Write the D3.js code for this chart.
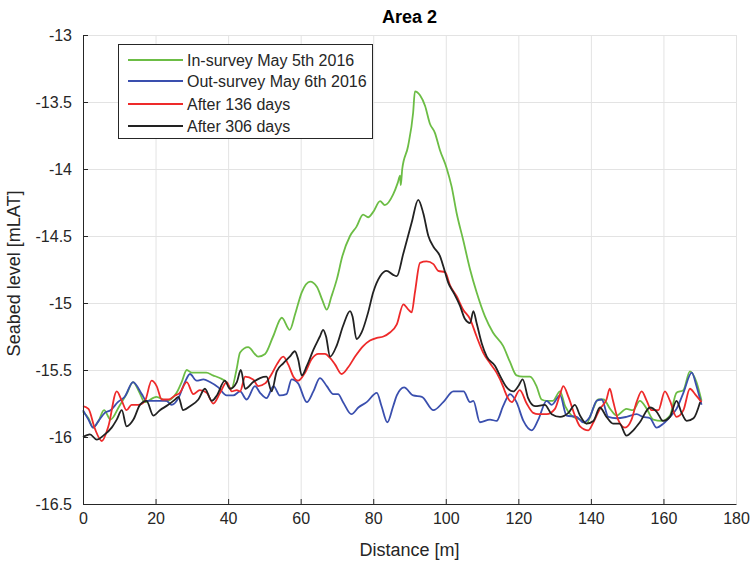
<!DOCTYPE html>
<html>
<head>
<meta charset="utf-8">
<script src="https://cdn.jsdelivr.net/npm/d3@7"></script>
<style>
  body { margin: 0; background: #fff; }
  svg { font-family: "Liberation Sans", Arial, Helvetica, sans-serif; }
</style>
</head>
<body>
<div class="chart-container"></div>
<script>
// data: [distance (m), seabed level (mLAT)]
const inSurvey = [[0,-15.81],[1.5,-15.86],[2.8,-15.93],[4.3,-15.88],[5.8,-15.80],[7.6,-15.87],[10,-15.77],[12,-15.68],[13.8,-15.59],[15.6,-15.67],[17,-15.74],[20.2,-15.70],[23,-15.73],[25.8,-15.67],[27.2,-15.59],[28.6,-15.50],[30,-15.52],[32,-15.52],[34,-15.52],[35.8,-15.54],[37.7,-15.56],[39.5,-15.59],[40.9,-15.64],[42.3,-15.50],[43.3,-15.37],[45.5,-15.33],[48.3,-15.40],[50.2,-15.38],[52.4,-15.25],[54.8,-15.11],[57,-15.20],[58.5,-15.08],[60.3,-14.92],[62.6,-14.84],[64.5,-14.88],[66,-14.98],[67.2,-15.05],[68.5,-14.95],[70,-14.82],[71.5,-14.65],[73.6,-14.50],[75.4,-14.43],[77.2,-14.34],[78.6,-14.36],[80,-14.32],[81.9,-14.24],[83.2,-14.27],[85.5,-14.19],[86.8,-14.10],[87.4,-14.05],[87.6,-14.12],[88,-14.0],[89.6,-13.83],[91,-13.58],[91.5,-13.42],[92.9,-13.45],[94.3,-13.53],[95.6,-13.66],[97,-13.73],[98.4,-13.86],[100.2,-13.99],[101.6,-14.13],[103,-14.33],[104.8,-14.53],[106.7,-14.75],[108.5,-14.92],[110.8,-15.10],[113,-15.22],[115.8,-15.32],[117.7,-15.44],[119.5,-15.54],[121.3,-15.55],[123.2,-15.55],[125,-15.62],[126.4,-15.72],[127.8,-15.73],[129.5,-15.73],[131.5,-15.66],[132.9,-15.77],[134.7,-15.84],[137,-15.87],[138.8,-15.90],[140.6,-15.79],[142,-15.72],[143.5,-15.72],[145.3,-15.79],[147.1,-15.84],[149.8,-15.79],[151.6,-15.80],[153.5,-15.73],[155.4,-15.79],[157.2,-15.87],[159.5,-15.88],[161.8,-15.84],[163.6,-15.67],[165.5,-15.65],[167.3,-15.51],[169.1,-15.59],[170.5,-15.73]];

const outSurvey = [[0,-15.80],[1.5,-15.87],[2.8,-15.93],[4.3,-15.88],[6,-15.82],[7.6,-15.80],[9.6,-15.74],[11.5,-15.70],[13.8,-15.59],[16.2,-15.68],[17.5,-15.73],[20.3,-15.73],[23,-15.73],[24.4,-15.76],[26.3,-15.71],[28.1,-15.59],[29.5,-15.53],[31.3,-15.58],[33.2,-15.57],[35,-15.59],[37.3,-15.63],[39.6,-15.69],[41.4,-15.69],[43.3,-15.66],[45.1,-15.72],[47.4,-15.62],[48.8,-15.67],[50.6,-15.71],[52.5,-15.62],[54.3,-15.69],[56.1,-15.68],[57.5,-15.57],[59.3,-15.60],[61.7,-15.74],[63.5,-15.66],[65.3,-15.56],[67.2,-15.62],[69,-15.68],[70.3,-15.68],[71.7,-15.74],[74,-15.83],[75.9,-15.78],[78.2,-15.74],[81,-15.67],[82.3,-15.77],[83.9,-15.89],[85.5,-15.77],[86.5,-15.69],[88.5,-15.63],[91,-15.69],[93.4,-15.70],[96.6,-15.80],[99.3,-15.74],[102.1,-15.66],[104.9,-15.66],[106.7,-15.74],[107.6,-15.73],[109.4,-15.89],[112.2,-15.87],[114,-15.88],[115.8,-15.77],[117.7,-15.68],[119.5,-15.74],[121.4,-15.88],[123.7,-15.95],[125.5,-15.87],[127.8,-15.73],[129.2,-15.76],[131.5,-15.69],[133.3,-15.84],[136.1,-15.85],[137.9,-15.89],[139.7,-15.85],[141.6,-15.73],[143,-15.72],[144.8,-15.85],[147.1,-15.86],[149.8,-15.85],[152.6,-15.83],[154.4,-15.85],[156.3,-15.86],[158.1,-15.93],[160,-15.90],[161.8,-15.85],[163.6,-15.79],[165.5,-15.67],[167.8,-15.52],[169.1,-15.62],[170.5,-15.76]];

const after136 = [[0,-15.77],[1.5,-15.79],[3.3,-15.94],[5.2,-16.03],[7,-15.92],[9.3,-15.66],[10.7,-15.73],[12,-15.80],[13.4,-15.76],[15.2,-15.76],[17.1,-15.73],[18.9,-15.58],[20.3,-15.62],[21.7,-15.72],[23.5,-15.72],[25.4,-15.69],[26.7,-15.67],[28.6,-15.59],[30.4,-15.68],[32.2,-15.65],[34.1,-15.67],[35.9,-15.75],[37.8,-15.67],[39.6,-15.59],[41,-15.66],[42.4,-15.65],[43.3,-15.66],[44.7,-15.55],[46.9,-15.57],[48.3,-15.62],[50.2,-15.60],[52,-15.53],[53.4,-15.46],[55.2,-15.40],[56.6,-15.46],[58,-15.55],[59.3,-15.58],[61.2,-15.52],[63,-15.42],[64.9,-15.38],[66.7,-15.38],[68.1,-15.41],[69.5,-15.46],[71.3,-15.53],[73.1,-15.48],[75,-15.40],[77.3,-15.32],[79.1,-15.28],[81,-15.26],[82.8,-15.25],[84.6,-15.22],[86.5,-15.16],[88.3,-15.01],[89.7,-15.05],[90.6,-15.07],[91.5,-14.92],[92.9,-14.70],[94.7,-14.69],[96.6,-14.71],[97.9,-14.76],[99.8,-14.77],[101.2,-14.87],[103,-14.95],[104.8,-15.05],[106.7,-15.12],[108.5,-15.25],[110.3,-15.37],[112.2,-15.45],[114,-15.52],[115.9,-15.63],[116.3,-15.66],[118.2,-15.74],[120.4,-15.65],[122.3,-15.75],[124.1,-15.82],[125.5,-15.83],[127.8,-15.83],[130.1,-15.79],[131.5,-15.68],[132.4,-15.62],[133.8,-15.70],[135.6,-15.84],[137,-15.92],[139.3,-15.95],[140.7,-15.89],[142.5,-15.79],[144.3,-15.72],[145.2,-15.64],[146.1,-15.73],[147.5,-15.87],[149.4,-15.93],[151.2,-15.87],[152.6,-15.74],[154,-15.66],[155.4,-15.73],[156.7,-15.80],[158.6,-15.80],[160.4,-15.66],[161.8,-15.73],[163.6,-15.85],[165.5,-15.80],[167.3,-15.64],[168.7,-15.68],[170.5,-15.74]];

const after306 = [[0,-16.00],[1.9,-15.98],[3.8,-16.02],[5.6,-15.99],[7.9,-15.93],[9.3,-15.87],[10.7,-15.80],[12,-15.92],[13.9,-15.87],[15.7,-15.76],[17.5,-15.73],[19.4,-15.84],[21.2,-15.80],[23.5,-15.76],[25.4,-15.72],[26.3,-15.70],[27.6,-15.80],[29.5,-15.77],[31.8,-15.72],[33.6,-15.64],[35.5,-15.73],[36.9,-15.69],[39.1,-15.58],[40.5,-15.64],[42.4,-15.59],[43.5,-15.50],[44.7,-15.64],[46.9,-15.59],[48.8,-15.56],[50.6,-15.55],[52,-15.66],[53.4,-15.51],[55.2,-15.45],[57,-15.40],[58.4,-15.36],[59.3,-15.42],[60.3,-15.54],[61.7,-15.47],[63.5,-15.35],[65.3,-15.25],[66.2,-15.20],[67,-15.25],[68.1,-15.40],[69.9,-15.32],[71.7,-15.17],[73.6,-15.06],[74.3,-15.10],[75.4,-15.27],[76.8,-15.22],[78.6,-15.07],[80,-14.92],[81.9,-14.80],[83.7,-14.76],[85.5,-14.79],[86.5,-14.80],[88.3,-14.63],[90.6,-14.40],[92.4,-14.23],[93.8,-14.33],[95.2,-14.50],[96.6,-14.58],[98.4,-14.65],[99.8,-14.77],[100.7,-14.85],[102.1,-14.92],[103.9,-15.02],[105.3,-15.12],[106.7,-15.15],[107.6,-15.06],[108.5,-15.15],[109.9,-15.30],[111.3,-15.40],[113.6,-15.47],[114.9,-15.54],[116.8,-15.63],[118.6,-15.66],[120,-15.62],[121.2,-15.57],[122.7,-15.71],[124.6,-15.77],[127.3,-15.76],[129.2,-15.83],[131.5,-15.85],[133.8,-15.82],[135.6,-15.76],[137,-15.84],[138.8,-15.90],[140.7,-15.88],[142.5,-15.78],[144.3,-15.85],[146.1,-15.90],[147.9,-15.90],[149.8,-15.99],[151.7,-15.95],[153.5,-15.89],[156.3,-15.78],[158.1,-15.81],[159.9,-15.88],[161.8,-15.85],[163.6,-15.73],[165,-15.82],[166.4,-15.88],[168.3,-15.86],[170.1,-15.74]];

const seriesNames = ['In-survey May 5th 2016', 'Out-survey May 6th 2016', 'After 136 days', 'After 306 days'];
const seriesColors = ['#6cbd45', '#3a4fae', '#ee2a2a', '#222222'];
const xTicks = [0, 20, 40, 60, 80, 100, 120, 140, 160, 180];
const yTicks = [-13, -13.5, -14, -14.5, -15, -15.5, -16, -16.5];

const series = [inSurvey, outSurvey, after136, after306].map((values, i) => ({
    name: seriesNames[i],
    color: seriesColors[i],
    values: values
}));

const margin = { top: 35, right: 16, bottom: 59, left: 83 };
const width = 752 - margin.left - margin.right;
const height = 563 - margin.top - margin.bottom;

// scales
const xScale = d3.scaleLinear().domain([0, 180]).range([0, width]);
const yScale = d3.scaleLinear().domain([-16.5, -13]).range([height, 0]);

const lineGen = d3.line()
    .curve(d3.curveMonotoneX)
    .x(d => xScale(d[0]))
    .y(d => yScale(d[1]));

const svg = d3.select('.chart-container')
    .append('svg')
    .attr('width', 752)
    .attr('height', 563)
    .append('g')
    .attr('transform', `translate(${margin.left}, ${margin.top})`);

// grid
const grid = svg.append('g').attr('class', 'grid');
grid.selectAll('.vgrid')
    .data(xTicks.slice(1))
    .enter()
        .append('line')
        .attr('x1', d => xScale(d) + 0.5)
        .attr('x2', d => xScale(d) + 0.5)
        .attr('y1', 0)
        .attr('y2', height)
        .style('stroke', '#e3e3e3');
grid.selectAll('.hgrid')
    .data(yTicks.slice(0, -1))
    .enter()
        .append('line')
        .attr('x1', 0)
        .attr('x2', width)
        .attr('y1', d => yScale(d) + 0.5)
        .attr('y2', d => yScale(d) + 0.5)
        .style('stroke', '#e3e3e3');

// lines
svg.append('g')
    .attr('class', 'line-chart')
    .selectAll('.line-series')
    .data(series)
    .enter()
        .append('path')
        .attr('class', 'line-series')
        .attr('d', d => lineGen(d.values))
        .style('fill', 'none')
        .style('stroke', d => d.color)
        .style('stroke-width', 1.8)
        .style('stroke-linejoin', 'round');

// axes
const xAxis = d3.axisBottom(xScale)
    .tickValues(xTicks)
    .tickSizeInner(-5)
    .tickSizeOuter(0)
    .tickPadding(11);

const xAxisDraw = svg.append('g')
    .attr('class', 'x axis')
    .attr('transform', `translate(0, ${height})`)
    .call(xAxis);

const yAxis = d3.axisLeft(yScale)
    .tickValues(yTicks)
    .tickFormat(d => String(d)) // plain hyphen minus
    .tickSizeInner(-5)
    .tickSizeOuter(0)
    .tickPadding(11);

const yAxisDraw = svg.append('g')
    .attr('class', 'y axis')
    .call(yAxis);

[xAxisDraw, yAxisDraw].forEach(ax => {
    ax.selectAll('path, line').style('stroke', '#262626');
    ax.selectAll('text')
        .style('font-size', '16px')
        .style('fill', '#262626')
        .style('font-family', '"Liberation Sans", Arial, sans-serif');
});
xAxisDraw.selectAll('text').attr('dy', '0.55em');
xAxisDraw.selectAll('.tick').filter(d => d === 180).select('line').remove();

// labels
svg.append('text')
    .attr('x', width / 2)
    .attr('y', -12)
    .attr('text-anchor', 'middle')
    .style('font-weight', 'bold')
    .style('font-size', '18px')
    .style('fill', '#000')
    .text('Area 2');

svg.append('text')
    .attr('x', width / 2)
    .attr('y', height + 52)
    .attr('text-anchor', 'middle')
    .style('font-size', '18px')
    .style('fill', '#262626')
    .text('Distance [m]');

svg.append('text')
    .attr('transform', `translate(${-63}, ${height / 2 + 4}) rotate(-90)`)
    .attr('text-anchor', 'middle')
    .style('font-size', '18px')
    .style('fill', '#262626')
    .text('Seabed level [mLAT]');

// legend
const legend = svg.append('g')
    .attr('class', 'legend')
    .attr('transform', `translate(${118 - margin.left}, ${44 - margin.top})`);

legend.append('rect')
    .attr('x', 0.5)
    .attr('y', 0.5)
    .attr('width', 254)
    .attr('height', 94)
    .style('fill', '#fff')
    .style('stroke', '#262626');

const legendItems = legend.selectAll('.legend-item')
    .data(series)
    .enter()
        .append('g')
        .attr('class', 'legend-item')
        .attr('transform', (d, i) => `translate(0, ${[16, 37, 60, 82][i]})`);

legendItems.append('line')
    .attr('x1', 10)
    .attr('x2', 65)
    .style('stroke', d => d.color)
    .style('stroke-width', 1.8);

legendItems.append('text')
    .attr('x', 69)
    .attr('dy', '0.35em')
    .style('font-size', '16px')
    .style('fill', '#262626')
    .text(d => d.name);
</script>
</body>
</html>
